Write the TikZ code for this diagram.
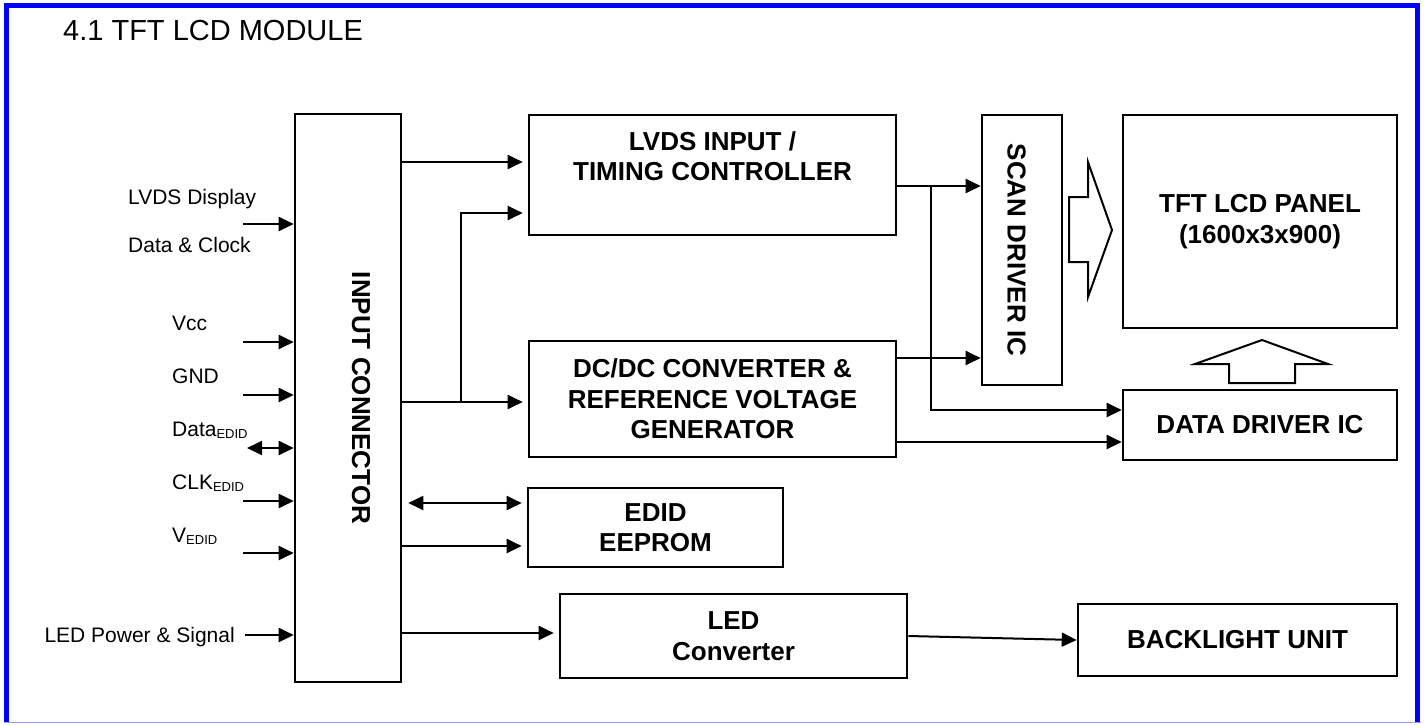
\documentclass[tikz,border=0pt]{standalone}
\usepackage{fontspec}
\setmainfont{Liberation Sans}
\usetikzlibrary{arrows.meta}

\newcommand\lblfont{\fontsize{21}{25}\selectfont}
\newcommand\boxfont{\fontsize{26}{30.5}\selectfont\bfseries}
\newcommand\edidsub{\raisebox{-2.5pt}{\fontsize{13}{13}\selectfont EDID}}

\begin{document}
\begin{tikzpicture}[x=1pt,y=-1pt,
    >={Triangle[length=15pt,width=14pt]},
    sig/.style={->,line width=2pt},
    dsig/.style={<->,line width=2pt},
    blk/.style={draw,line width=2.6pt,inner sep=0pt,align=center,font=\boxfont},
    btxt/.style={inner sep=0pt,align=center,font=\boxfont},
    lbl/.style={inner sep=0pt,font=\lblfont}]
        \useasboundingbox (0,0) rectangle (1424,724);
        % frame
        \draw[blue,line width=5pt] (6.5,722) -- (6.5,5.5) -- (1417.5,5.5) -- (1417.5,722);
        \draw[blue!40,line width=1.5pt] (4,722.5) -- (1421,722.5);
        \node[lbl,anchor=base west,font=\fontsize{29}{34}\selectfont] (title) at (63,40) {4.1 TFT LCD MODULE};

        % blocks
        \node[blk,minimum width=106pt,minimum height=568pt] (conn) at (348,398) {};
        \node[btxt,rotate=-90] (conntxt) at (361,398) {INPUT CONNECTOR};
        \node[blk,minimum width=367pt,minimum height=120pt] (tcon) at (712.5,175) {};
        \node[btxt] (tcontxt) at (712.5,156) {LVDS INPUT /\\TIMING CONTROLLER};
        \node[blk,minimum width=367pt,minimum height=116pt] (dcdc) at (712.5,399) {DC/DC CONVERTER \&\\REFERENCE VOLTAGE\\GENERATOR};
        \node[blk,minimum width=80pt,minimum height=270pt] (scan) at (1022,250) {};
        \node[btxt,rotate=-90] (scantxt) at (1016.5,250) {SCAN DRIVER IC};
        \node[blk,minimum width=274pt,minimum height=213pt] (panel) at (1260,221.5) {TFT LCD PANEL\\(1600x3x900)};
        \node[blk,minimum width=274pt,minimum height=70pt] (ddrv) at (1260,425) {DATA DRIVER IC};
        \node[blk,minimum width=255pt,minimum height=79pt] (edid) at (655.5,527.5) {EDID\\EEPROM};
        \node[blk,minimum width=347pt,minimum height=84pt] (ledc) at (733.5,636) {LED\\Converter};
        \node[blk,minimum width=319pt,minimum height=72pt] (blu) at (1237.5,640) {BACKLIGHT UNIT};

        % hollow arrows
        \draw[line width=2pt] (1069,197) -- (1088,197) -- (1088,162) -- (1112,230) -- (1088,297) -- (1088,262) -- (1069,262) -- cycle;
        \draw[line width=2pt] (1229,383) -- (1229,364) -- (1195,364) -- (1262,340) -- (1328,364) -- (1295,364) -- (1295,383) -- cycle;

        % input signals
        \node[lbl,anchor=base west] (lvdsa) at (128,204) {LVDS Display};
        \node[lbl,anchor=base west] (lvdsb) at (128,252) {Data \& Clock};
        \node[lbl,anchor=base west] (vcc) at (172,330) {Vcc};
        \node[lbl,anchor=base west] (gnd) at (172,383) {GND};
        \node[lbl,anchor=base west] (dataedid) at (172,436) {Data\edidsub};
        \node[lbl,anchor=base west] (clkedid) at (172,489) {CLK\edidsub};
        \node[lbl,anchor=base west] (vedid) at (172,542) {V\edidsub};
        \node[lbl,anchor=base east] (ledin) at (235,642) {LED Power \& Signal};
        \foreach \y [count=\i] in {224,342,395,501,553} {
            \coordinate (in\i) at (243,\y);
            \draw[sig] (in\i) -- (in\i -| conn.west);
        }
        \coordinate (inled) at (245,635);
        \draw[sig] (inled) -- (inled -| conn.west);
        \coordinate (indata) at (247,448);
        \draw[dsig] (indata) -- (indata -| conn.west);

        % connections
        \coordinate (ja) at (461,402);
        \coordinate (jb) at (931,186);
        \draw[sig,shorten >=5pt] (conn.east |- 0,162) -- (tcon.west |- 0,162);
        \draw[sig,shorten >=5pt] (ja) |- (tcon.west |- 0,213);
        \draw[sig,shorten >=5pt] (conn.east |- ja) -- (dcdc.west |- ja);
        \draw[dsig,shorten <=6pt,shorten >=5pt] (conn.east |- 0,503) -- (edid.west |- 0,503);
        \draw[sig,shorten >=5pt] (conn.east |- 0,546) -- (edid.west |- 0,546);
        \draw[sig,shorten >=5pt] (conn.east |- 0,633) -- (ledc.west |- 0,633);
        \draw[sig] (tcon.east |- jb) -- (scan.west |- jb);
        \draw[sig] (jb) |- (ddrv.west |- 0,410);
        \draw[sig] (dcdc.east |- 0,358) -- (scan.west |- 0,358);
        \draw[sig] (dcdc.east |- 0,442) -- (ddrv.west |- 0,442);
        \draw[sig] (ledc.east) -- (blu.west);
    \end{tikzpicture}
\end{document}
